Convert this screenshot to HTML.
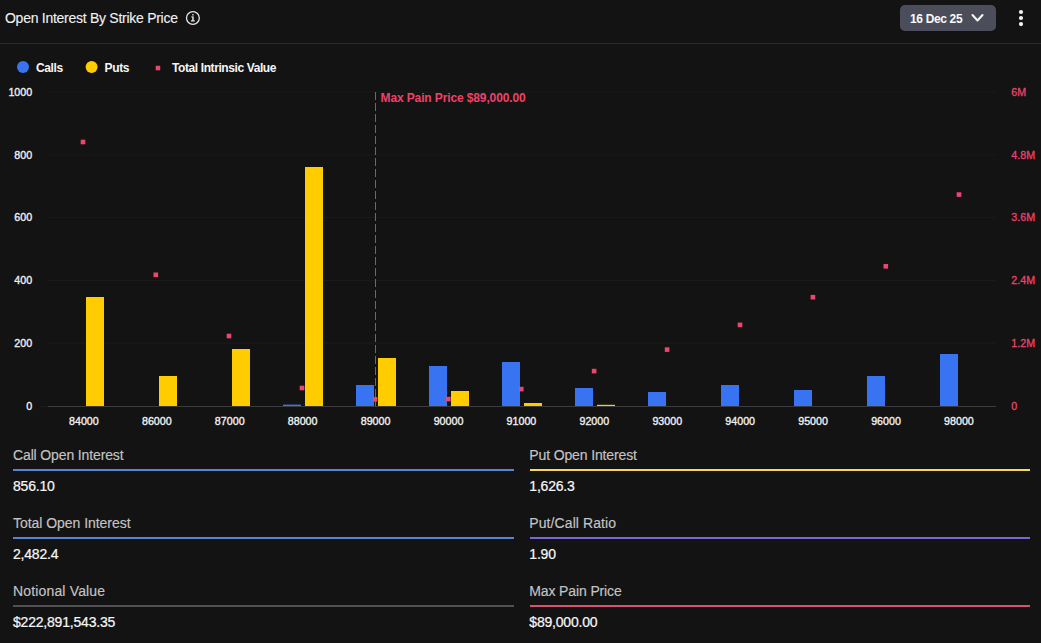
<!DOCTYPE html>
<html>
<head>
<meta charset="utf-8">
<style>
html,body{margin:0;padding:0;}
body{width:1041px;height:643px;background:#131314;overflow:hidden;position:relative;font-family:"Liberation Sans",sans-serif;color:#f2f2f2;}
.abs{position:absolute;white-space:nowrap;}
.title{left:5px;top:11px;font-size:14px;line-height:14px;letter-spacing:-0.27px;color:#f0f0f0;-webkit-text-stroke:0.12px #f0f0f0;}
.sep{left:0;top:43px;width:1041px;height:1px;background:#2b2b2e;}
.btn{left:900px;top:5px;width:96px;height:26px;border-radius:5px;background:#4b4e5a;}
.btntxt{left:910px;top:12.5px;font-size:12px;line-height:12px;font-weight:700;color:#fafafa;letter-spacing:-0.35px;}
.lbl{font-size:14px;line-height:14px;color:#c4c4c4;letter-spacing:-0.13px;-webkit-text-stroke:0.15px #c4c4c4;}
.val{font-size:14px;line-height:14px;color:#f7f7f7;letter-spacing:-0.2px;-webkit-text-stroke:0.22px #f7f7f7;}
.line{height:2px;}
</style>
</head>
<body>
<div class="abs title">Open Interest By Strike Price</div>
<svg class="abs" style="left:0;top:0" width="1041" height="643" viewBox="0 0 1041 643">
  <!-- info icon -->
  <circle cx="192.9" cy="18" r="6.4" fill="none" stroke="#e6e6e6" stroke-width="1.3"/>
  <rect x="192.2" y="14" width="1.5" height="1.5" rx="0.5" fill="#e6e6e6"/>
  <rect x="192.2" y="16.4" width="1.5" height="4.2" fill="#e6e6e6"/>
  <rect x="191.3" y="16.4" width="1.2" height="0.9" fill="#e6e6e6"/>
  <rect x="191" y="20.2" width="3.7" height="1.3" fill="#e6e6e6"/>
  <!-- kebab -->
  <circle cx="1021" cy="12" r="2.1" fill="#f2f2f2"/>
  <circle cx="1021" cy="18" r="2.1" fill="#f2f2f2"/>
  <circle cx="1021" cy="24.1" r="2.1" fill="#f2f2f2"/>
</svg>
<div class="abs sep"></div>
<div class="abs btn"></div>
<div class="abs btntxt">16 Dec 25</div>
<svg class="abs" style="left:0;top:0" width="1041" height="643" viewBox="0 0 1041 643">
  <polyline points="972.5,15 977.5,20.5 982.5,15" fill="none" stroke="#f4f4f4" stroke-width="2.1" stroke-linecap="round" stroke-linejoin="round"/>
</svg>

<!-- legend + chart -->
<svg class="abs" style="left:0;top:0" width="1041" height="643" viewBox="0 0 1041 643" font-family="Liberation Sans, sans-serif">
  <circle cx="23" cy="67" r="6" fill="#3874f1"/>
  <text x="36" y="72" font-size="12" font-weight="700" fill="#f6f6f6" letter-spacing="-0.4">Calls</text>
  <circle cx="91.6" cy="67" r="6" fill="#ffcc00"/>
  <text x="104.5" y="72" font-size="12" font-weight="700" fill="#f6f6f6" letter-spacing="-0.35">Puts</text>
  <rect x="155.7" y="65.8" width="4.5" height="4.5" fill="#ee4570"/>
  <text x="172" y="72" font-size="12" font-weight="700" fill="#f6f6f6" letter-spacing="-0.4">Total Intrinsic Value</text>

  <!-- gridlines -->
  <g stroke="#1b1b1c" stroke-width="1">
    <line x1="48" y1="92" x2="996" y2="92"/>
    <line x1="48" y1="154.8" x2="996" y2="154.8"/>
    <line x1="48" y1="217.6" x2="996" y2="217.6"/>
    <line x1="48" y1="280.4" x2="996" y2="280.4"/>
    <line x1="48" y1="343.2" x2="996" y2="343.2"/>
  </g>
  <line x1="48" y1="406.5" x2="996" y2="406.5" stroke="#3c3c3e" stroke-width="1"/>
  <line x1="40" y1="406.5" x2="48" y2="406.5" stroke="#1b1b1c" stroke-width="1"/>

  <!-- left axis labels -->
  <g font-size="10.7" fill="#efefef" text-anchor="end" stroke="#efefef" stroke-width="0.35">
    <text x="32.2" y="95.85">1000</text>
    <text x="32.2" y="158.65">800</text>
    <text x="32.2" y="221.45">600</text>
    <text x="32.2" y="284.25">400</text>
    <text x="32.2" y="347.05">200</text>
    <text x="32.2" y="409.85">0</text>
  </g>
  <!-- right axis labels -->
  <g font-size="10.7" fill="#ee4268" stroke="#ee4268" stroke-width="0.3">
    <text x="1011.3" y="95.85">6M</text>
    <text x="1011.3" y="158.65">4.8M</text>
    <text x="1011.3" y="221.45">3.6M</text>
    <text x="1011.3" y="284.25">2.4M</text>
    <text x="1011.3" y="347.05">1.2M</text>
    <text x="1011.3" y="409.85">0</text>
  </g>
  <!-- x labels -->
  <g font-size="10.7" fill="#efefef" text-anchor="middle" stroke="#efefef" stroke-width="0.35">
    <text x="83.90" y="425">84000</text>
    <text x="156.82" y="425">86000</text>
    <text x="229.74" y="425">87000</text>
    <text x="302.66" y="425">88000</text>
    <text x="375.58" y="425">89000</text>
    <text x="448.50" y="425">90000</text>
    <text x="521.42" y="425">91000</text>
    <text x="594.34" y="425">92000</text>
    <text x="667.26" y="425">93000</text>
    <text x="740.18" y="425">94000</text>
    <text x="813.10" y="425">95000</text>
    <text x="886.02" y="425">96000</text>
    <text x="958.94" y="425">98000</text>
  </g>

  <!-- calls bars -->
  <g fill="#3874f1">
    <rect x="283" y="404.6" width="18" height="1.4"/>
    <rect x="356" y="385" width="18" height="21"/>
    <rect x="429" y="366" width="18" height="40"/>
    <rect x="502" y="362" width="18" height="44"/>
    <rect x="575" y="388" width="18" height="18"/>
    <rect x="648" y="392" width="18" height="14"/>
    <rect x="721" y="385" width="18" height="21"/>
    <rect x="794" y="390" width="18" height="16"/>
    <rect x="867" y="376" width="18" height="30"/>
    <rect x="940" y="354" width="18" height="52"/>
  </g>
  <!-- puts bars -->
  <g fill="#ffcc00">
    <rect x="86" y="297" width="18" height="109"/>
    <rect x="159" y="376" width="18" height="30"/>
    <rect x="232" y="349" width="18" height="57"/>
    <rect x="305" y="167" width="18" height="239"/>
    <rect x="378" y="358" width="18" height="48"/>
    <rect x="451" y="391" width="18" height="15"/>
    <rect x="524" y="403" width="18" height="3"/>
    <rect x="597" y="404.8" width="18" height="1.2"/>
  </g>

  <!-- max pain line -->
  <line x1="375.5" y1="92" x2="375.5" y2="406" stroke="#ee4268" stroke-width="1" stroke-dasharray="8 3" opacity="0.85"/>
  <text x="380.5" y="102" font-size="12" font-weight="700" fill="#ee4268" letter-spacing="-0.12">Max Pain Price $89,000.00</text>

  <!-- intrinsic value dots -->
  <g fill="#ee4570">
    <rect x="80.7" y="139.7" width="4.6" height="4.6"/>
    <rect x="153.5" y="272.5" width="4.6" height="4.6"/>
    <rect x="226.7" y="333.7" width="4.6" height="4.6"/>
    <rect x="299.7" y="385.7" width="4.6" height="4.6"/>
    <rect x="372.8" y="397" width="4.6" height="4.6"/>
    <rect x="446" y="396.8" width="4.6" height="4.6"/>
    <rect x="519" y="386.8" width="4.6" height="4.6"/>
    <rect x="591.8" y="368.8" width="4.6" height="4.6"/>
    <rect x="664.8" y="347.3" width="4.6" height="4.6"/>
    <rect x="737.7" y="322.6" width="4.6" height="4.6"/>
    <rect x="810.6" y="294.9" width="4.6" height="4.6"/>
    <rect x="883.5" y="264" width="4.6" height="4.6"/>
    <rect x="956.7" y="192.3" width="4.6" height="4.6"/>
  </g>
</svg>

<!-- stats -->
<div class="abs lbl" style="left:13px;top:448.2px">Call Open Interest</div>
<div class="abs line" style="left:13px;top:469px;width:501px;background:#5a83d6"></div>
<div class="abs val" style="left:13px;top:479.2px">856.10</div>

<div class="abs lbl" style="left:13px;top:516.2px;letter-spacing:-0.04px">Total Open Interest</div>
<div class="abs line" style="left:13px;top:537px;width:501px;background:#5a83d6"></div>
<div class="abs val" style="left:13px;top:547.2px">2,482.4</div>

<div class="abs lbl" style="left:13px;top:584.2px;letter-spacing:0.16px">Notional Value</div>
<div class="abs line" style="left:13px;top:605px;width:501px;background:#505055"></div>
<div class="abs val" style="left:13px;top:615.2px">$222,891,543.35</div>

<div class="abs lbl" style="left:529.3px;top:448.2px">Put Open Interest</div>
<div class="abs line" style="left:530px;top:469px;width:500px;background:#f9d856"></div>
<div class="abs val" style="left:529.3px;top:479.2px">1,626.3</div>

<div class="abs lbl" style="left:529.3px;top:516.2px;letter-spacing:0.09px">Put/Call Ratio</div>
<div class="abs line" style="left:530px;top:537px;width:500px;background:#7b66d8"></div>
<div class="abs val" style="left:529.3px;top:547.2px">1.90</div>

<div class="abs lbl" style="left:529.3px;top:584.2px">Max Pain Price</div>
<div class="abs line" style="left:530px;top:605px;width:500px;background:#d8516f"></div>
<div class="abs val" style="left:529.3px;top:615.2px">$89,000.00</div>
</body>
</html>
